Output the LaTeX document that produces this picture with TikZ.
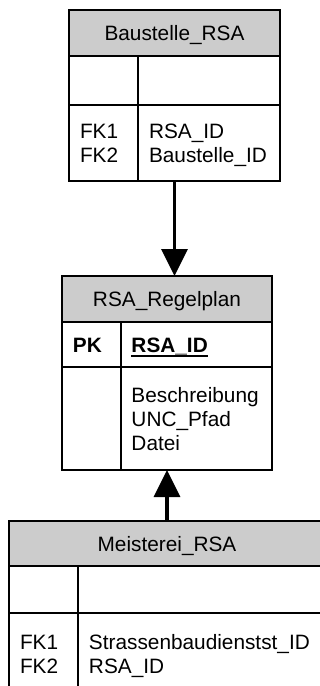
\documentclass[tikz,border=0pt]{standalone}
\usepackage{fontspec}
\setmainfont{Liberation Sans}
\usetikzlibrary{matrix}
\usetikzlibrary{positioning}
\usetikzlibrary{arrows.meta}
\definecolor{hdrgray}{RGB}{204,204,204}
\hyphenpenalty=10000
\exhyphenpenalty=10000
\newlength\pkwd
\newcommand\pkname[1]{\settowidth\pkwd{#1}\rlap{\rule[-2.25pt]{\pkwd}{0.9pt}}#1}

\begin{document}
\begin{tikzpicture}[x=1pt,y=1pt,
  every node/.style={font=\fontsize{10.4pt}{12pt}\selectfont, outer sep=0pt},
  hdr/.style={draw, line width=0.9pt, fill=hdrgray, inner sep=0pt, text depth=0pt},
  tbl/.style={matrix of nodes, nodes in empty cells, inner sep=-0.45pt, column sep=-0.9pt, row sep=-0.9pt,
    nodes={draw, line width=0.9pt, anchor=center, align=left, inner xsep=5.5pt, inner ysep=0pt,
      text height=7.5pt, text depth=0pt}},
  fk/.style={-{Triangle[width=13pt,length=13.5pt]}, line width=1.75pt}]
  \useasboundingbox (0,0) rectangle (160,-343);
  \clip (0,0) rectangle (160,-343);

  \node[hdr, minimum width=105.5pt, minimum height=23pt] (bauh) at (87.25,-16.5) {Baustelle\_RSA};
  \matrix (bau) [tbl, below=0pt of bauh,
    column 1/.style={nodes={text width=23.5pt}},
    column 2/.style={nodes={text width=60pt}},
    row 1/.style={nodes={minimum height=24.5pt}},
    row 2/.style={nodes={minimum height=38pt, text depth=12pt}}]
  {
     & \\
    {FK1\\FK2} & {RSA\_ID\\Baustelle\_ID} \\};

  \node[hdr, minimum width=105pt, minimum height=23pt] (rph) at (83.5,-149.5) {RSA\_Regelplan};
  \matrix (rp) [tbl, below=0pt of rph,
    column 1/.style={nodes={text width=18.5pt}},
    column 2/.style={nodes={text width=65pt, inner xsep=5.25pt}},
    row 1/.style={nodes={minimum height=22.5pt}},
    row 2/.style={nodes={minimum height=51.5pt, text depth=24pt}}]
  {
    \textbf{PK} & \pkname{\textbf{RSA\_ID}} \\
     & {Beschreibung\\UNC\_Pfad\\Datei} \\};

  \node[hdr, minimum width=158pt, minimum height=22.5pt] (msh) at (83.5,-271.75) {Meisterei\_RSA};
  \matrix (ms) [tbl, below=0pt of msh,
    column 1/.style={nodes={text width=23.5pt}},
    column 2/.style={nodes={text width=112.5pt}},
    row 1/.style={nodes={minimum height=23.5pt}},
    row 2/.style={nodes={minimum height=40.5pt, text depth=12pt}}]
  {
     & \\
    {FK1\\FK2} & {Strassenbaudienstst\_ID\\RSA\_ID} \\};

  \draw[fk] (bau.south) -- (bau.south |- rph.north);
  \draw[fk] (msh.north) -- (msh.north |- rp.south);
\end{tikzpicture}
\end{document}
